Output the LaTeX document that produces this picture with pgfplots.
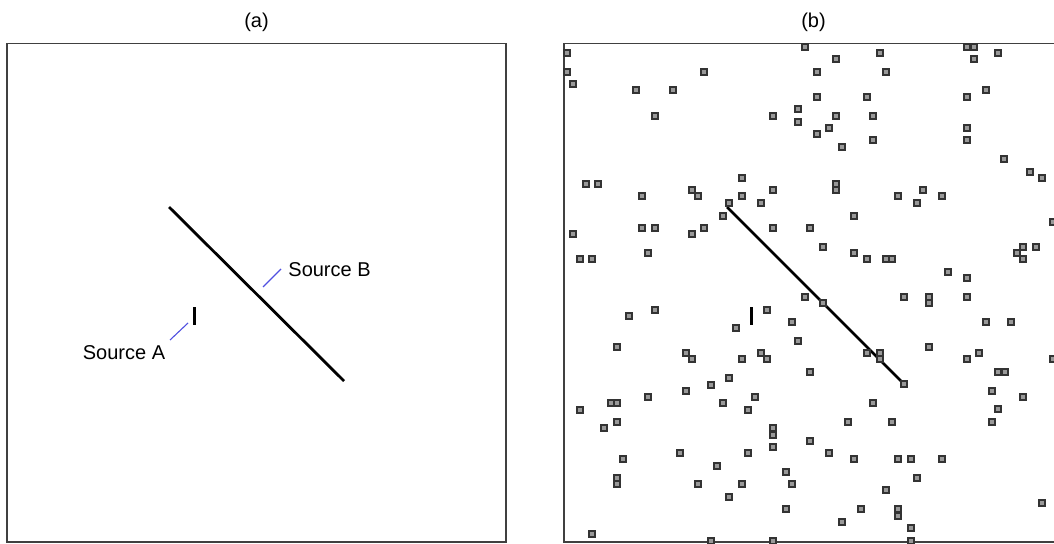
\documentclass[border=0pt]{standalone}
\usepackage{fontspec}
\setmainfont{Liberation Sans}
\usepackage{pgfplots}
\pgfplotsset{compat=1.18}
\usepackage{pgfplotstable}
\definecolor{spine}{HTML}{404040}
\definecolor{leader}{HTML}{5050E0}
\pgfplotstableread{
x y
567 53
567 72
573 84
704 72
636 90
673 90
655 116
773 116
798 109
798 122
805 47
586 184
598 184
642 196
692 190
698 196
742 178
742 196
773 190
761 203
729 203
836 59
880 53
817 72
886 72
967 47
974 47
974 59
998 53
817 97
867 97
967 97
986 90
836 116
873 116
829 128
817 134
842 147
873 140
967 128
967 140
1004 159
1030 172
1042 178
836 184
836 190
898 196
923 190
942 196
917 203
1053 222
723 216
573 234
642 228
655 228
692 234
704 228
773 228
810 228
648 253
580 259
592 259
805 297
629 316
655 310
736 328
767 310
792 322
798 341
617 347
686 353
692 359
742 359
761 353
767 359
810 372
854 216
823 247
854 253
867 259
886 259
892 259
1023 247
1036 247
1017 253
1023 259
948 272
967 278
823 303
904 297
929 297
929 303
967 297
986 322
1011 322
867 353
880 353
880 359
929 347
967 359
979 353
998 372
1005 372
1053 359
729 378
711 385
686 391
648 397
755 397
723 403
748 410
611 403
617 403
580 410
617 422
604 428
773 428
773 435
773 447
810 441
623 459
680 453
748 453
717 466
786 472
617 478
617 484
698 484
742 484
792 484
729 497
786 509
592 534
711 541
773 541
904 384
992 391
1023 397
998 409
992 422
873 403
848 422
892 422
829 453
854 459
898 459
911 459
942 459
917 478
886 490
861 509
898 509
898 516
842 522
911 528
911 541
1042 503
}\squares
\begin{document}
\begin{tikzpicture}
\pgfplotsset{panel/.style={
  anchor=north west, scale only axis, width=249.5pt, height=249.25pt,
  ymin=43.5, ymax=542, y dir=reverse,
  xtick=\empty, ytick=\empty, clip=false,
  axis line style={draw=spine, line width=0.75pt},
  every node/.append style={font=\fontsize{10}{12}\selectfont}}}
% Panel (a)
\begin{axis}[panel, at={(3.5pt,-21.75pt)}, xmin=7, xmax=506]
\addplot[black, line width=1.4pt] coordinates {(169,207) (344,381)};
\addplot[black, line width=1.5pt] coordinates {(194,307) (194,325)};
\addplot[leader, line width=0.55pt] coordinates {(170,340) (188,323)};
\addplot[leader, line width=0.55pt] coordinates {(263,287) (281,269)};
\node[anchor=west, inner sep=0pt] at (axis cs:288,270) {Source B};
\node[anchor=west, inner sep=0pt] at (axis cs:82.5,353) {Source A};
\node at (axis cs:256.5,22) {(a)};
\end{axis}
% Panel (b)
\begin{axis}[panel, at={(282pt,-21.75pt)}, xmin=564, xmax=1063]
\addplot[black, line width=1.4pt] coordinates {(727,207) (903,383)};
\addplot[black, line width=1.5pt] coordinates {(751,307) (751,325)};
\addplot[only marks, mark=square*, mark size=1.55pt,
  mark options={draw=black!80, fill=black!40, line width=0.8pt}]
  table[x=x, y=y] {\squares};
\node at (axis cs:813.5,22) {(b)};
\end{axis}
\pgfresetboundingbox
\useasboundingbox (0,0) rectangle (527pt,-272pt);
\end{tikzpicture}
\end{document}
